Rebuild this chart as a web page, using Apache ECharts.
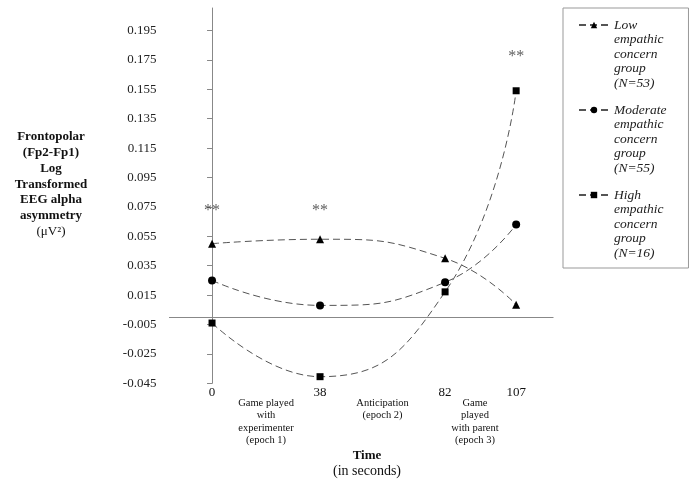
<!DOCTYPE html>
<html>
<head>
<meta charset="utf-8">
<script src="https://cdn.jsdelivr.net/npm/echarts@6/dist/echarts.min.js"></script>
<style>html,body{margin:0;padding:0;background:#fff}#c{width:698px;height:485px}</style>
</head>
<body>
<div id="c"></div>
<script>
// ---- data ----
const times = [0, 38, 82, 107];
const lowGroup = [0.050, 0.053, 0.040, 0.0085];
const moderateGroup = [0.025, 0.008, 0.0237, 0.063];
const highGroup = [-0.004, -0.0405, 0.0172, 0.154];
const seriesNames = ['Low empathic concern group (N=53)', 'Moderate empathic concern group (N=55)', 'High empathic concern group (N=16)'];
const legendLines = [
  ['Low', 'empathic', 'concern', 'group', '(N=53)'],
  ['Moderate', 'empathic', 'concern', 'group', '(N=55)'],
  ['High', 'empathic', 'concern', 'group', '(N=16)']
];
const yTicks = [-0.045, -0.025, -0.005, 0.015, 0.035, 0.055, 0.075, 0.095, 0.115, 0.135, 0.155, 0.175, 0.195];
const epochPositions = [19, 60, 92.5];
const epochLabels = [
  ['Game played', 'with', 'experimenter', '(epoch 1)'],
  ['Anticipation', '(epoch 2)'],
  ['Game', 'played', 'with parent', '(epoch 3)']
];
const significance = [[0, 0.075], [38, 0.075], [107, 0.18]];
const significanceLabel = '**';
const yTitleBold = ['Frontopolar', '(Fp2-Fp1)', 'Log', 'Transformed', 'EEG alpha', 'asymmetry'];
const yTitleUnit = '(μV²)';
const xTitle = 'Time';
const xSubTitle = '(in seconds)';

// ---- chart ----
const serif = '"Liberation Serif", "DejaVu Serif", serif';
const chart = echarts.init(document.getElementById('c'), null, {renderer: 'canvas'});
const symbols = ['triangle', 'circle', 'rect'];
const symSizes = [8, 8, 7];
const groups = [lowGroup, moderateGroup, highGroup];

const lineSeries = groups.map((vals, i) => ({
  name: seriesNames[i],
  type: 'line',
  xAxisIndex: 0,
  data: vals.map((v, k) => [times[k], v]),
  smooth: 0.5,
  symbol: symbols[i],
  symbolSize: symSizes[i],
  showAllSymbol: true,
  lineStyle: {color: '#555', width: 1, type: [7, 4]},
  itemStyle: {color: '#000'},
  emphasis: {disabled: true},
  z: 3
}));

const labelCustom = times.concat(epochPositions);

const option = {
  animation: false,
  backgroundColor: '#fff',
  title: [
    {
      left: 51, top: 129, textAlign: 'center', padding: 0,
      text: yTitleBold.map(s => '{b|' + s + '}').join('\n') + '\n{n|' + yTitleUnit + '}',
      textStyle: {
        rich: {
          b: {fontFamily: serif, fontWeight: 'bold', fontSize: 13, lineHeight: 15.8, color: '#111', align: 'center'},
          n: {fontFamily: serif, fontWeight: 'normal', fontSize: 13, lineHeight: 15.8, color: '#111', align: 'center'}
        }
      }
    },
    {
      left: 367, top: 448, textAlign: 'center', padding: 0,
      text: '{b|' + xTitle + '}\n{n|' + xSubTitle + '}',
      textStyle: {
        rich: {
          b: {fontFamily: serif, fontWeight: 'bold', fontSize: 13, lineHeight: 15.7, color: '#111', align: 'center'},
          n: {fontFamily: serif, fontWeight: 'normal', fontSize: 14, lineHeight: 15.7, color: '#111', align: 'center'}
        }
      }
    }
  ],
  legend: {
    orient: 'vertical',
    left: 563, top: 8,
    padding: [-48.7, 22, 7.3, 15],
    itemGap: -46.4,
    itemWidth: 30, itemHeight: 8,
    borderColor: '#999', borderWidth: 1,
    data: seriesNames,
    formatter: name => '\n\n\n\n' + legendLines[seriesNames.indexOf(name)].join('\n'),
    textStyle: {fontFamily: serif, fontStyle: 'italic', fontSize: 13.5, lineHeight: 14.6, color: '#222'}
  },
  grid: {left: 169.4, right: 144.9, top: 8, bottom: 101.7},
  xAxis: [
    {
      type: 'value', min: -15, max: 120, position: 'bottom',
      axisLine: {show: false, onZero: false}, axisTick: {show: false}, splitLine: {show: false},
      axisLabel: {
        customValues: labelCustom,
        margin: 2,
        lineHeight: 11.8,
        formatter: v => {
          const ti = times.indexOf(v);
          if (ti >= 0) return '{num|' + v + '}';
          const ei = epochPositions.indexOf(v);
          if (ei >= 0) return '\n' + epochLabels[ei].map(s => '{ep|' + s + '}').join('\n');
          return '';
        },
        rich: {
          num: {fontFamily: serif, fontSize: 13, lineHeight: 14, color: '#111'},
          ep: {fontFamily: serif, fontSize: 10.5, lineHeight: 12.4, color: '#111'}
        }
      }
    },
    {
      type: 'value', min: -15, max: 120, position: 'bottom',
      axisLine: {show: true, onZero: true, lineStyle: {color: '#888', width: 1}},
      axisTick: {show: false}, axisLabel: {show: false}, splitLine: {show: false}
    }
  ],
  yAxis: {
    type: 'value', min: -0.045, max: 0.2103,
    axisLine: {show: true, lineStyle: {color: '#888', width: 1}},
    axisTick: {show: true, customValues: yTicks, length: 5, lineStyle: {color: '#888'}},
    splitLine: {show: false},
    axisLabel: {
      customValues: yTicks, margin: 13,
      fontFamily: serif, fontSize: 13, color: '#222',
      formatter: v => v.toFixed(3)
    }
  },
  series: lineSeries.concat([{
    name: 'significance',
    type: 'scatter',
    xAxisIndex: 0,
    data: significance,
    symbolSize: 0,
    silent: true,
    label: {show: true, position: 'inside', formatter: significanceLabel, fontFamily: serif, fontSize: 16, color: '#333', offset: [0, 4]},
    z: 4
  }])
};
chart.setOption(option);
</script>
</body>
</html>
